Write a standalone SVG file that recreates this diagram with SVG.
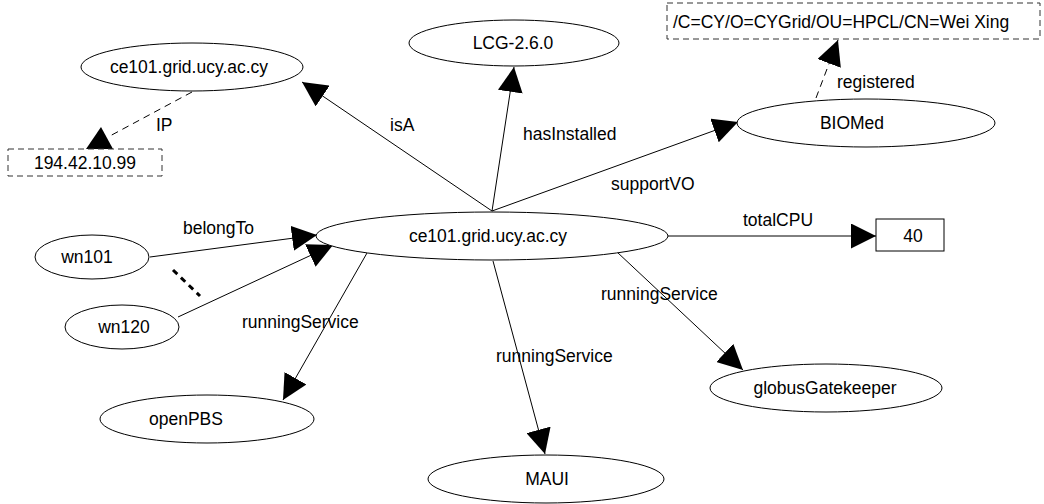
<svg xmlns="http://www.w3.org/2000/svg" width="1044" height="504" viewBox="0 0 1044 504">
<defs>
<style>
text{font-family:"Liberation Sans",Arial,sans-serif;font-size:17.5px;fill:#000}
.n{text-anchor:middle}
ellipse,rect{fill:#fff;stroke:#000;stroke-width:1}
.d{stroke-dasharray:6,4;stroke:#333}
.e{stroke:#000;stroke-width:1;fill:none}
.ed{stroke:#000;stroke-width:1;fill:none;stroke-dasharray:7,5}
</style>
<marker id="ah" markerUnits="userSpaceOnUse" markerWidth="25" markerHeight="25" refX="25" refY="12.5" orient="auto" viewBox="0 0 25 25">
<path d="M0,0 L25,12.5 L0,25 z" fill="#000"/>
</marker>
</defs>
<g id="connectors">
<line class="e" x1="492" y1="211" x2="302" y2="82" marker-end="url(#ah)"/>
<line class="e" x1="492" y1="211" x2="514" y2="67" marker-end="url(#ah)"/>
<line class="e" x1="492" y1="211" x2="738" y2="122" marker-end="url(#ah)"/>
<line class="ed" x1="192" y1="92" x2="108" y2="137"/>
<polygon points="101,127 86,149 113,149" fill="#000"/>
<line class="ed" x1="816" y1="98" x2="838" y2="40" marker-end="url(#ah)"/>
<line class="e" x1="668" y1="236" x2="876" y2="236" marker-end="url(#ah)"/>
<line class="e" x1="150" y1="257" x2="317" y2="235" marker-end="url(#ah)"/>
<line class="e" x1="178" y1="317" x2="333" y2="245" marker-end="url(#ah)"/>
<line x1="173" y1="270" x2="200" y2="296" stroke="#000" stroke-width="3" stroke-dasharray="6,5"/>
<line class="e" x1="367" y1="253" x2="283" y2="400" marker-end="url(#ah)"/>
<line class="e" x1="493" y1="261" x2="545" y2="454" marker-end="url(#ah)"/>
<line class="e" x1="617" y1="252" x2="743" y2="370" marker-end="url(#ah)"/>
<text x="156" y="131">IP</text>
<text x="390" y="131">isA</text>
<text x="523" y="140">hasInstalled</text>
<text x="611" y="190">supportVO</text>
<text x="837" y="88">registered</text>
<text x="743" y="226">totalCPU</text>
<text x="183" y="234">belongTo</text>
<text x="242" y="328">runningService</text>
<text x="496" y="362">runningService</text>
<text x="601" y="300">runningService</text>
</g>
<g id="node-ce101-main"><ellipse cx="492" cy="236" rx="176" ry="24"/><text class="n" x="488" y="242">ce101.grid.ucy.ac.cy</text></g>
<g id="node-ce101-class"><ellipse cx="192" cy="67" rx="111" ry="24"/><text class="n" x="189" y="73">ce101.grid.ucy.ac.cy</text></g>
<g id="node-lcg"><ellipse cx="514" cy="43" rx="105" ry="23"/><text class="n" x="513" y="49">LCG-2.6.0</text></g>
<g id="node-biomed"><ellipse cx="866" cy="123" rx="129" ry="24"/><text class="n" x="852" y="129">BIOMed</text></g>
<g id="node-dn"><rect class="d" x="667" y="3" width="373" height="36"/><text x="673" y="28">/C=CY/O=CYGrid/OU=HPCL/CN=Wei Xing</text></g>
<g id="node-ip"><rect class="d" x="8" y="149" width="154" height="27"/><text class="n" x="85" y="169">194.42.10.99</text></g>
<g id="node-40"><rect x="876" y="219" width="68" height="32"/><text class="n" x="913" y="242">40</text></g>
<g id="node-wn101"><ellipse cx="92" cy="257" rx="57" ry="22"/><text class="n" x="87" y="263">wn101</text></g>
<g id="node-wn120"><ellipse cx="122" cy="327" rx="57" ry="22"/><text class="n" x="124" y="333">wn120</text></g>
<g id="node-openpbs"><ellipse cx="207" cy="419" rx="107" ry="24"/><text class="n" x="186" y="425">openPBS</text></g>
<g id="node-maui"><ellipse cx="546" cy="479" rx="118" ry="24"/><text class="n" x="547" y="485">MAUI</text></g>
<g id="node-globus"><ellipse cx="826" cy="388" rx="116" ry="24"/><text class="n" x="825" y="394">globusGatekeeper</text></g>
</svg>
